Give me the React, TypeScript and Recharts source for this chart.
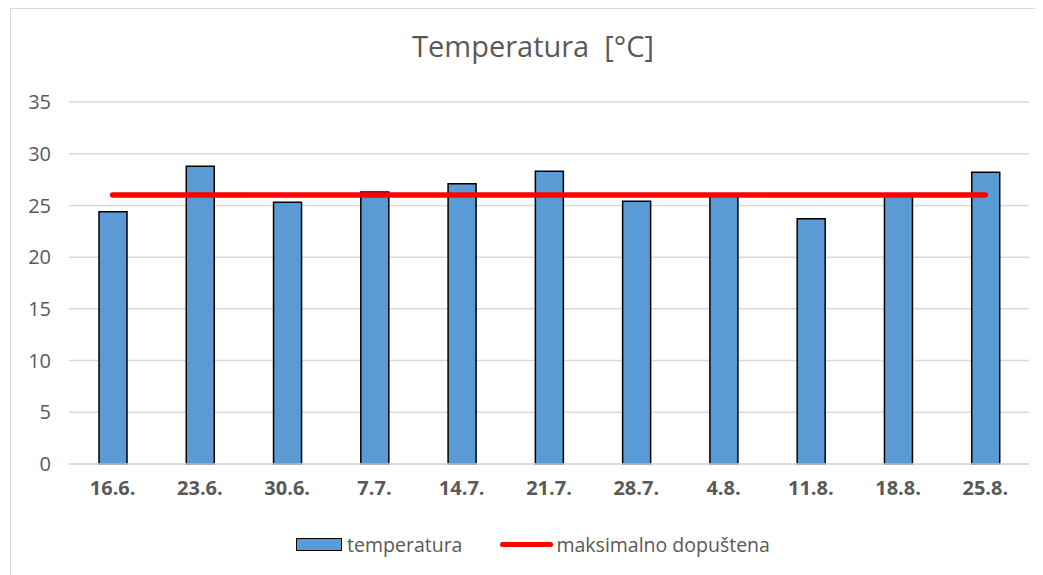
import {
  ComposedChart,
  Bar,
  Line,
  XAxis,
  YAxis,
  CartesianGrid,
  Legend,
} from 'recharts'

const dates = ['16.6.', '23.6.', '30.6.', '7.7.', '14.7.', '21.7.', '28.7.', '4.8.', '11.8.', '18.8.', '25.8.']
const temperatura = [24.4, 28.8, 25.3, 26.3, 27.1, 28.3, 25.4, 26.0, 23.7, 26.0, 28.2]
const maksimalno = [26, 26, 26, 26, 26, 26, 26, 26, 26, 26, 26]
const yTicks = [0, 5, 10, 15, 20, 25, 30, 35]

const data = dates.map((d, i) => ({
  date: d,
  temperatura: temperatura[i],
  maksimalno: maksimalno[i],
}))

const FONT = '"Open Sans", "Liberation Sans", sans-serif'
const GRAY = '#595959'

function ChartLegend() {
  return (
    <div
      style={{
        display: 'flex',
        justifyContent: 'center',
        alignItems: 'center',
        fontFamily: FONT,
        fontSize: 19.5,
        color: GRAY,
        paddingRight: 16,
      }}
    >
      <span
        style={{
          display: 'inline-block',
          width: 44,
          height: 11,
          background: '#5B9BD5',
          border: '1.5px solid #000',
          marginRight: 5,
        }}
      />
      <span>temperatura</span>
      <span
        style={{
          display: 'inline-block',
          width: 53,
          height: 5,
          borderRadius: 3,
          background: '#ff0000',
          marginLeft: 38,
          marginRight: 3,
        }}
      />
      <span>maksimalno dopuštena</span>
    </div>
  )
}

export default function App() {
  return (
    <div
      style={{
        position: 'relative',
        width: 1033,
        height: 567,
        marginLeft: 2,
        overflow: 'hidden',
        borderLeft: '1.5px solid #d9d9d9',
        borderTop: '1.5px solid #d9d9d9',
        boxSizing: 'border-box',
      }}
    >
      <div
        style={{
          position: 'absolute',
          top: 17,
          left: 0,
          width: 1044,
          textAlign: 'center',
          fontFamily: FONT,
          fontSize: 29,
          color: GRAY,
          whiteSpace: 'pre',
        }}
      >
        {'Temperatura  [°C]'}
      </div>
      <ComposedChart
        width={1040}
        height={567}
        data={data}
        margin={{ top: 93, right: 22, left: 0, bottom: 55 }}
      >
        <CartesianGrid stroke="#d9d9d9" strokeWidth={1.5} vertical={false} />
        <XAxis
          dataKey="date"
          axisLine={{ stroke: '#d9d9d9', strokeWidth: 1.5 }}
          tickLine={false}
          tickSize={0}
          tickMargin={17}
          interval={0}
          tick={{ fill: GRAY, fontSize: 20, fontWeight: 700, fontFamily: FONT }}
        />
        <YAxis
          width={58}
          domain={[0, 35]}
          ticks={yTicks}
          axisLine={false}
          tickLine={false}
          tickSize={0}
          tickMargin={18}
          tick={{ fill: GRAY, fontSize: 20, fontFamily: FONT }}
        />
        <Legend
          content={<ChartLegend />}
          wrapperStyle={{ position: 'absolute', top: 522, left: 0, width: 1060 }}
        />
        <Bar
          dataKey="temperatura"
          name="temperatura"
          fill="#5B9BD5"
          stroke="#000"
          strokeWidth={1.5}
          barSize={28}
          isAnimationActive={false}
        />
        <Line
          type="linear"
          dataKey="maksimalno"
          name="maksimalno dopuštena"
          stroke="#ff0000"
          strokeWidth={5.5}
          strokeLinecap="round"
          dot={false}
          activeDot={false}
          isAnimationActive={false}
        />
      </ComposedChart>
    </div>
  )
}
